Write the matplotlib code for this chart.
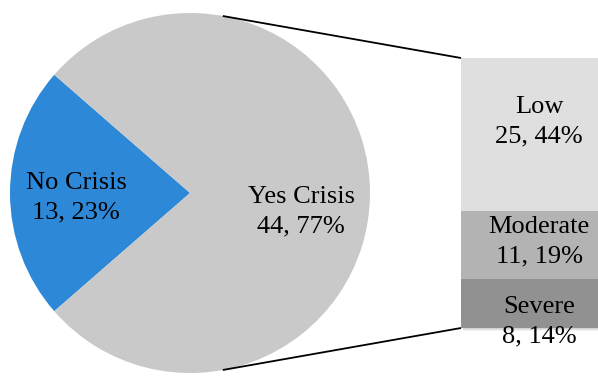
import matplotlib
matplotlib.use("Agg")
import matplotlib.pyplot as plt
import numpy as np
from matplotlib.patches import Rectangle

# Data
pie_labels = ["No Crisis", "Yes Crisis"]
pie_values = [13, 44]
pie_pct = ["23%", "77%"]
bar_labels = ["Severe", "Moderate", "Low"]
bar_values = [8, 11, 25]
bar_pct = ["14%", "19%", "44%"]

W, H = 598, 376
fig = plt.figure(figsize=(W / 100, H / 100), dpi=100)
ax = fig.add_axes([0, 0, 1, 1])

font = dict(family="Liberation Serif", size=19, color="black")
LS = 1.45

cx, cy, r = 190, 183, 180
total = sum(pie_values)
blue_span = pie_values[0] / total * 360
start = 180 - blue_span / 2
wedges, _ = ax.pie(pie_values, colors=["#2E88D8", "#C9C9C9"], startangle=start,
                   center=(cx, cy), radius=r, counterclock=True,
                   wedgeprops=dict(linewidth=0))
ax.set_xlim(0, W)
ax.set_ylim(0, H)
ax.set_aspect("equal")
ax.axis("off")

ax.text(76, H - 198, f"{pie_labels[0]}\n{pie_values[0]}, {pie_pct[0]}", ha="center", va="center",
        linespacing=LS, **font)
ax.text(301, H - 212, f"{pie_labels[1]}\n{pie_values[1]}, {pie_pct[1]}", ha="center", va="center",
        linespacing=LS, **font)

# Bar axes
bl, bt, bw, bh = 461, 58, 154, 270
bax = fig.add_axes([bl / W, (H - bt - bh) / H, bw / W, bh / H])
bax.set_xlim(-0.5, 0.5)
bax.set_ylim(0, sum(bar_values))
bax.axis("off")
bar_colors = ["#919191", "#B3B3B3", "#DFDFDF"]
bottom = 0
# soft shadow
for k, a in [(0.5, 0.05), (0.3, 0.06), (0.15, 0.07)]:
    bax.add_patch(Rectangle((-0.5 + 0.01, -k), 1.0, sum(bar_values), color="#000000", alpha=a,
                            zorder=0, clip_on=False, linewidth=0))
for v, c in zip(bar_values, bar_colors):
    bax.bar(0, v, width=1.0, bottom=bottom, color=c, linewidth=0, zorder=1)
    bottom += v

# labels in bar (positions in fig pixel coords)
lab_y = {"Low": 122, "Moderate": 242, "Severe": 322}
for lab, v, p in zip(bar_labels, bar_values, bar_pct):
    fig.text(539 / W, 1 - lab_y[lab] / H, f"{lab}\n{v}, {p}", ha="center", va="center",
             linespacing=LS, zorder=5, **font)

# connector lines
ang = np.deg2rad(79.5)
px, py = cx + r * np.cos(ang), cy + r * np.sin(ang)
ax.plot([px, bl], [py, H - bt], color="black", lw=1.3, solid_capstyle="butt")
ax.plot([px, bl], [cy - r * np.sin(ang), H - (bt + bh)], color="black", lw=1.3, solid_capstyle="butt")

fig.savefig("out.png", dpi=100)
